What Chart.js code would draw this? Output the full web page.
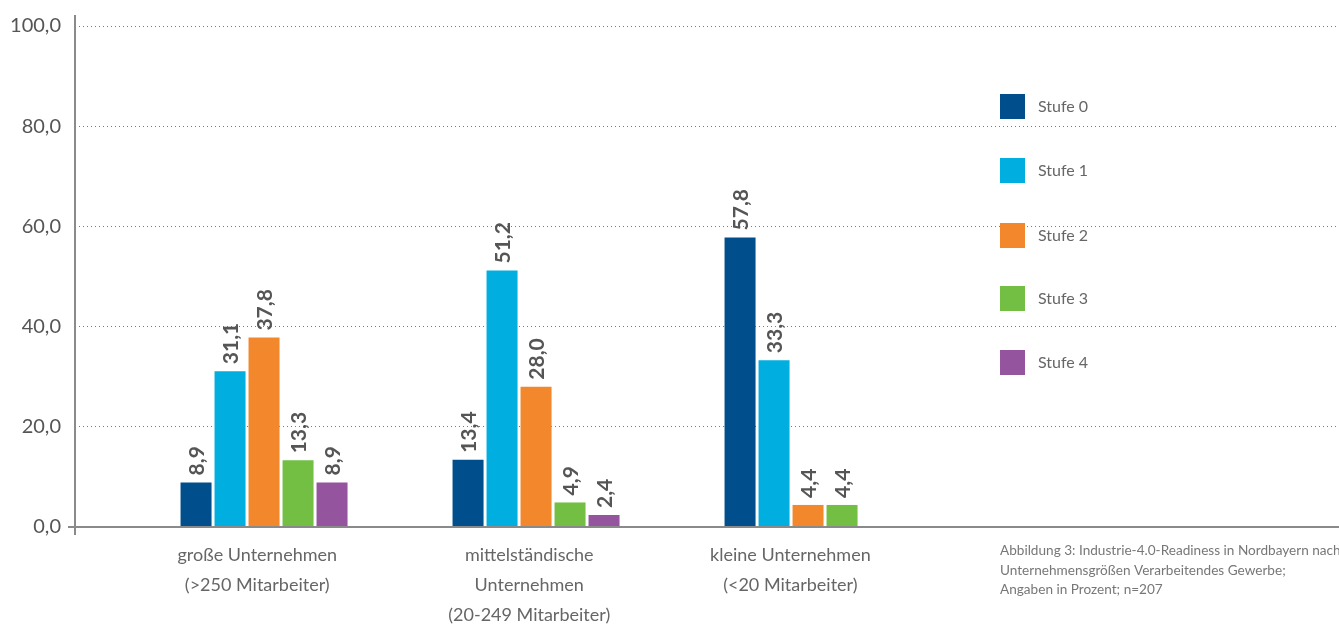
<!DOCTYPE html>
<html>
<head>
<meta charset="utf-8">
<script src="https://cdn.jsdelivr.net/npm/chart.js@4/dist/chart.umd.min.js"></script>
<style>
  html, body { margin: 0; padding: 0; background: #fff; }
  #wrap { position: relative; width: 1339px; height: 626px; }
</style>
</head>
<body>
<div id="wrap"><canvas id="myChart"></canvas></div>
<script>
"use strict";

// categories (x) and where their labels sit on the linear index axis
const categories = [
	['große Unternehmen', '(>250 Mitarbeiter)'],
	['mittelständische', 'Unternehmen', '(20-249 Mitarbeiter)'],
	['kleine Unternehmen', '(<20 Mitarbeiter)']
];
const labelPos = [0.975, 1.975, 2.935];

const seriesNames = ['Stufe 0', 'Stufe 1', 'Stufe 2', 'Stufe 3', 'Stufe 4'];
const stufe0 = [8.9, 13.4, 57.8];
const stufe1 = [31.1, 51.2, 33.3];
const stufe2 = [37.8, 28.0, 4.4];
const stufe3 = [13.3, 4.9, 4.4];
const stufe4 = [8.9, 2.4, null];
const yTicks = [0, 20, 40, 60, 80, 100];

const colors = ['#004e8c', '#00aee0', '#f2872c', '#72bf44', '#95559e'];
const caption = [
	'Abbildung 3: Industrie-4.0-Readiness in Nordbayern nach',
	'Unternehmensgrößen Verarbeitendes Gewerbe;',
	'Angaben in Prozent; n=207'
];

const FONT = 'Lato, "Open Sans", sans-serif';

function fmt(v) {
	return v.toFixed(1).replace('.', ',');
}

const series = [stufe0, stufe1, stufe2, stufe3, stufe4];

// axis lines, value labels, legend and caption
const extras = {
	id: 'extras',
	afterDatasetsDraw(chart) {
		const ctx = chart.ctx;
		const area = chart.chartArea;
		ctx.save();

		// axes
		ctx.strokeStyle = '#8a8a8a';
		ctx.lineWidth = 2;
		ctx.beginPath();
		ctx.moveTo(area.left, 15);
		ctx.lineTo(area.left, area.bottom + 8);
		ctx.moveTo(area.left - 7, area.bottom);
		ctx.lineTo(area.right, area.bottom);
		ctx.stroke();

		// value labels, rotated
		ctx.fillStyle = '#555';
		ctx.font = 'bold 21px ' + FONT;
		ctx.textAlign = 'left';
		ctx.textBaseline = 'middle';
		chart.data.datasets.forEach(function (ds, di) {
			const meta = chart.getDatasetMeta(di);
			meta.data.forEach(function (bar, i) {
				const v = series[di][i];
				if (v === null || v === undefined) return;
				ctx.save();
				ctx.translate(bar.x + 1, bar.y - 7);
				ctx.rotate(-Math.PI / 2);
				ctx.fillText(fmt(v), 0, 0);
				ctx.restore();
			});
		});

		// legend
		const legendTop = [94, 158, 223, 286, 350];
		ctx.font = '16px ' + FONT;
		seriesNames.forEach(function (name, i) {
			ctx.fillStyle = colors[i];
			ctx.fillRect(1000, legendTop[i], 25, 25);
			ctx.fillStyle = '#666';
			ctx.fillText(name, 1038, legendTop[i] + 13);
		});

		// caption
		ctx.font = '13.6px ' + FONT;
		ctx.fillStyle = '#777';
		caption.forEach(function (line, i) {
			ctx.fillText(line, 1000, 551 + i * 19.5);
		});

		ctx.restore();
	}
};

const ctx = document.getElementById('myChart');

new Chart(ctx, {
	type: 'bar',
	data: {
		datasets: seriesNames.map(function (name, di) {
			return {
				label: name,
				data: series[di].map(function (v, i) { return { x: i + 1, y: v }; }),
				backgroundColor: colors[di],
				borderWidth: 0,
				categoryPercentage: 0.651,
				barPercentage: 0.912
			};
		})
	},
	options: {
		responsive: true,
		maintainAspectRatio: false,
		animation: false,
		layout: { padding: { top: 26, right: 0, left: 0, bottom: 0 } },
		plugins: {
			legend: { display: false },
			tooltip: { enabled: false }
		},
		scales: {
			x: {
				type: 'linear',
				offset: false,
				min: 0.305,
				max: 4.952,
				afterBuildTicks: function (scale) {
					scale.ticks = labelPos.map(function (v) { return { value: v }; });
				},
				afterFit: function (scale) { scale.height = 99; },
				grid: { display: false, drawTicks: false, offset: false },
				border: { display: false },
				ticks: {
					autoSkip: false,
					maxRotation: 0,
					padding: 13,
					color: '#666',
					font: { family: FONT, size: 18, lineHeight: 1.667 },
					callback: function (value, index) { return categories[index]; }
				}
			},
			y: {
				min: 0,
				max: 100,
				afterBuildTicks: function (scale) {
					scale.ticks = yTicks.map(function (v) { return { value: v }; });
				},
				afterFit: function (scale) { scale.width = 75; },
				grid: {
					drawTicks: false,
					color: function (c) { return c.tick && c.tick.value === 0 ? 'rgba(0,0,0,0)' : '#7a7a7a'; },
					lineWidth: 1
				},
				border: { display: false, dash: [1, 3] },
				ticks: {
					padding: 14,
					color: '#555',
					font: { family: FONT, size: 20 },
					callback: function (v) { return fmt(v); }
				}
			}
		}
	},
	plugins: [extras]
});
</script>
</body>
</html>
